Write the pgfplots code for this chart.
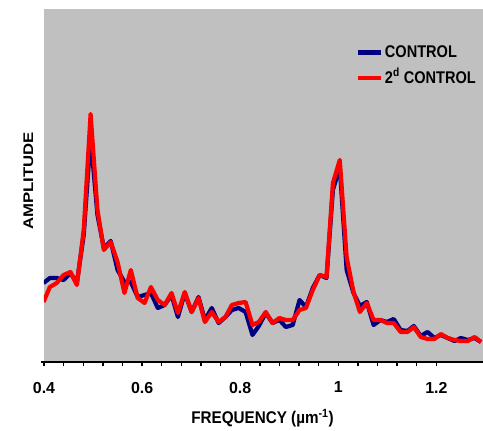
\documentclass[border=0pt]{standalone}
\usepackage{fontspec}
\setmainfont{Liberation Sans}
\newfontfamily\narrowfont[FakeStretch=0.86]{Liberation Sans}
\newfontfamily\xlfont[FakeStretch=0.9]{Liberation Sans}
\newfontfamily\widefont[FakeStretch=1.2]{Liberation Sans}
\usepackage{pgfplots}
\usepackage{pgfplotstable}
\pgfplotsset{compat=1.18}
\definecolor{bgray}{RGB}{192,192,192}
\definecolor{navyb}{RGB}{0,0,128}
\definecolor{redr}{RGB}{255,0,0}

\pgfplotstableread{
x      red  blue
0.399  60   79
0.412  75   84
0.426  79   84
0.440  87   82
0.454  90   89
0.467  77   79
0.481  132  127
0.495  248  225
0.509  152  147
0.522  112  114
0.536  120  121
0.550  100  92
0.564  69   80
0.577  92   80
0.591  64   65
0.605  59   67
0.618  75   69
0.632  62   54
0.646  57   57
0.660  69   67
0.673  49   45
0.687  70   69
0.701  50   50
0.715  64   65
0.728  40   42
0.742  50   54
0.756  40   39
0.770  45   45
0.783  57   52
0.797  59   54
0.811  60   50
0.825  37   27
0.838  40   36
0.852  50   49
0.866  39   39
0.880  44   42
0.893  42   35
0.907  42   37
0.921  52   62
0.934  54   55
0.948  72   74
0.962  87   87
0.976  85   84
0.989  179  172
1.003  202  195
1.017  105  92
1.031  70   69
1.044  50   56
1.058  59   60
1.072  42   37
1.086  42   42
1.099  39   40
1.113  39   43
1.127  30   32
1.141  30   31
1.154  35   36
1.168  25   26
1.182  23   30
1.196  23   24
1.209  28   27
1.223  24   24
1.237  22   21
1.250  21   24
1.264  21   22
1.278  25   24
1.291  20   20
}\datatable

\begin{document}
\begin{tikzpicture}
\begin{axis}[
  scale only axis, width=439bp, height=353bp,
  xmin=0.4, xmax=1.295, ymin=0, ymax=353,
  axis background/.style={fill=bgray},
  axis line style={draw=none},
  ytick=\empty,
  xtick pos=bottom,
  xtick={0.4,0.6,0.8,1,1.2},
  minor x tick num=4,
  tick align=outside,
  major tick length=4.5bp, minor tick length=4.5bp,
  xtick style={draw=black, line width=1.4bp},
  /pgf/number format/assume math mode=true,
  xticklabel style={font=\bfseries\fontsize{16}{19}\selectfont, yshift=-12bp},
  xlabel={FREQUENCY (µm\textsuperscript{-1})},
  ylabel={AMPLITUDE},
  every axis x label/.style={at={(axis description cs:0.4977,-0.1737)}, anchor=base, font=\xlfont\bfseries\fontsize{17}{20}\selectfont},
  every axis y label/.style={at={(axis description cs:-0.025,0.513)}, rotate=90, anchor=base, font=\widefont\bfseries\fontsize{14}{17}\selectfont},
  legend cell align=left,
  legend style={at={(axis description cs:0.7108,0.8958)}, anchor=north west, draw=none, fill=none, inner sep=0pt, outer sep=0pt, row sep=12.1bp, column sep=1.7bp, font=\narrowfont\bfseries\fontsize{17}{20}\selectfont, nodes={inner sep=0pt}},
  legend image code/.code={\draw[#1] (0bp,0bp) -- (23bp,0bp);},
]
\addplot[navyb, line width=4.2bp, line join=round] table[x=x, y=blue] {\datatable};
\addlegendentry{CONTROL}
\addplot[redr, line width=4.2bp, line join=round] table[x=x, y=red] {\datatable};
\addlegendentry{2\smash{\textsuperscript{d}} CONTROL}
\end{axis}
\fill[black] (-3bp,-1.4bp) rectangle (439bp,1.4bp);
\path (-44bp,-65bp) rectangle (439bp,362bp);
\end{tikzpicture}
\end{document}
